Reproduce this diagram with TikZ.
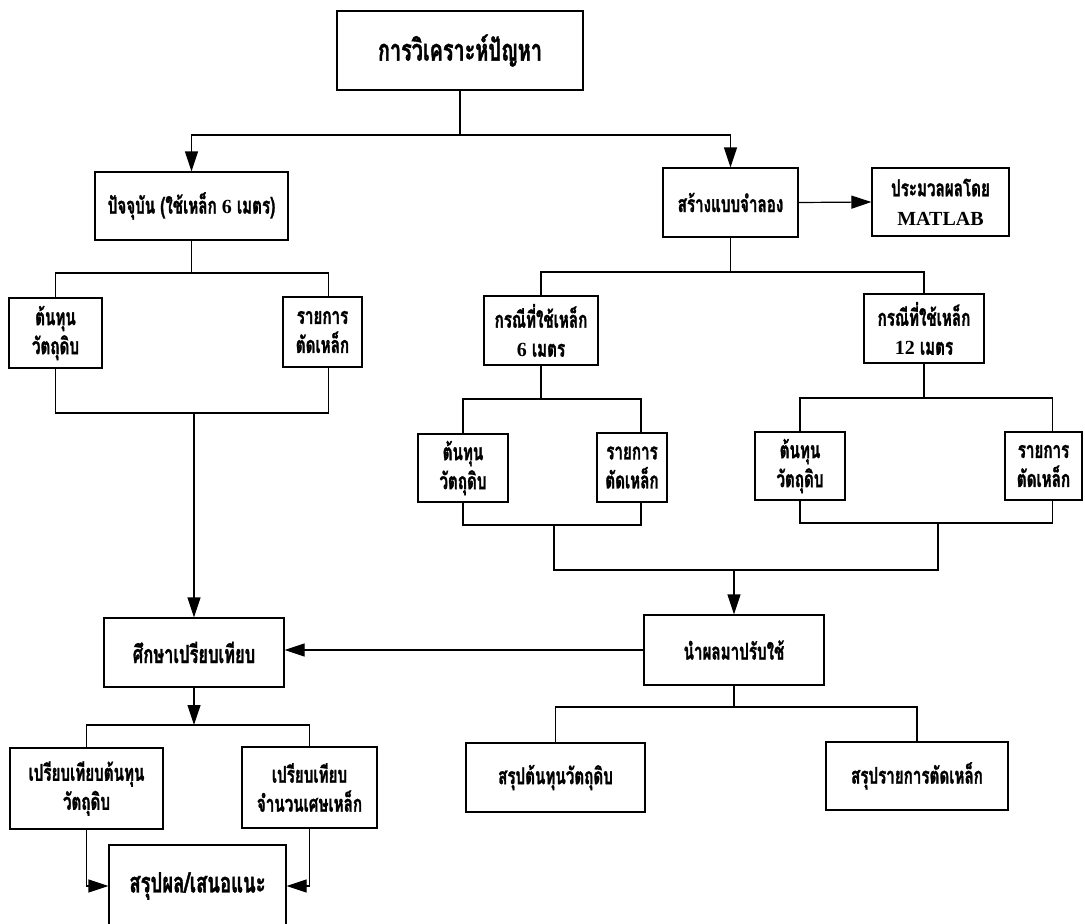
\documentclass[tikz,border=0pt]{standalone}
\usepackage{fontspec}
\newfontfamily\thaifont[Script=Thai,FakeStretch=0.66,BoldFeatures={FakeBold=1.2}]{Loma}
\newfontfamily\latfont{Liberation Serif}
\newcommand\lt[1]{{\latfont\bfseries\fontsize{20}{29}\selectfont #1}}
\usetikzlibrary{arrows.meta,calc}
\tikzset{
  box/.style={draw, line width=1.2pt, inner sep=0pt, align=center,
    font=\thaifont\bfseries\fontsize{23}{29}\selectfont},
  ln/.style={line width=1.2pt},
  arr/.style={line width=1.2pt, -{Triangle[length=20pt,width=13pt]}},
}
\newcommand\bx[6]{\node[box, minimum width={(#4)-(#2)}, minimum height={(#5)-(#3)}] (#1) at ({((#2)+(#4))/2},{((#3)+(#5))/2}) {#6};}
\begin{document}
\begin{tikzpicture}[x=1pt,y=-1pt]
\useasboundingbox (0,0) rectangle (1085,924);
\clip (0,0) rectangle (1085,924);
\fill[white] (0,0) rectangle (1085,924);
% boxes
\bx{top}{337}{11}{583}{90}{\fontsize{30}{34}\selectfont การวิเคราะห์ปัญหา}
\bx{now}{95}{172}{288}{240}{ปัจจุบัน (ใช้เหล็ก \lt{6} เมตร)}
\bx{c1}{9}{298}{102}{368}{ต้นทุน\\วัตถุดิบ}
\bx{l1}{283}{297}{362}{367}{รายการ\\ตัดเหล็ก}
\bx{model}{663}{168}{798}{237}{สร้างแบบจำลอง}
\bx{matlab}{872}{168}{1009}{236}{ประมวลผลโดย\\\lt{MATLAB}}
\bx{m6}{484}{296}{598}{365}{กรณีที่ใช้เหล็ก\\\lt{6} เมตร}
\bx{m12}{864}{294}{984}{363}{กรณีที่ใช้เหล็ก\\\lt{12} เมตร}
\bx{c6}{418}{434}{508}{502}{ต้นทุน\\วัตถุดิบ}
\bx{l6}{597}{433}{667}{502}{รายการ\\ตัดเหล็ก}
\bx{c12}{755}{432}{845}{500}{ต้นทุน\\วัตถุดิบ}
\bx{l12}{1005}{432}{1082}{500}{รายการ\\ตัดเหล็ก}
\bx{apply}{644}{615}{824}{685}{นำผลมาปรับใช้}
\bx{study}{104}{618}{284}{687}{\fontsize{25}{30}\selectfont ศึกษาเปรียบเทียบ}
\bx{cmpc}{10}{748}{163}{829}{เปรียบเทียบต้นทุน\\วัตถุดิบ}
\bx{cmpw}{242}{747}{377}{828}{เปรียบเทียบ\\จำนวนเศษเหล็ก}
\bx{sumc}{466}{743}{645}{812}{สรุปต้นทุนวัตถุดิบ}
\bx{suml}{826}{742}{1008}{810}{สรุปรายการตัดเหล็ก}
\node[box, minimum width=177, minimum height=82] (concl) at (197.5,886) {\fontsize{28}{30}\selectfont สรุปผล/เสนอแนะ};
% junctions
\coordinate (b1) at (460,135);
\coordinate (b2) at (191.5,273);
\coordinate (b3) at (194,413);
\coordinate (b4) at (730.5,272);
\coordinate (b5) at (541,399);
\coordinate (b6) at (554,525);
\coordinate (b9) at (938,523);
\coordinate (b10) at (734,570);
\coordinate (b11) at (194,725);
\coordinate (b12) at (734,707);
\coordinate (b13) at (924,398);
% connectors
\draw[arr] (top.south) -- (b1) -| (now.north);
\draw[arr] (b1) -| (model.north);
\draw[ln] (now.south) -- (b2) -| (c1.north);
\draw[ln] (b2) -| ([xshift=6pt]l1.north);
\draw[ln] (c1.south) |- (b3) -| ([xshift=6pt]l1.south);
\draw[arr] (b3) -- (study.north);
\draw[arr] (model.east) -- (matlab.west);
\draw[ln] (model.south) -- (b4) -| (m6.north);
\draw[ln] (b4) -| (m12.north);
\draw[ln] (m6.south) -- (b5) -| (c6.north);
\draw[ln] (b5) -| ([xshift=9pt]l6.north);
\draw[ln] (m12.south) -- (b13) -| (c12.north);
\draw[ln] (b13) -| ([xshift=9pt]l12.north);
\draw[ln] (c6.south) |- (b6) -| ([xshift=9pt]l6.south);
\draw[ln] (c12.south) |- (b9) -| ([xshift=9pt]l12.south);
\draw[ln] (b6) |- (b10) -| (b9);
\draw[arr] (b10) -- (apply.north);
\draw[arr] (apply.west) -- (apply.west -| study.east);
\draw[arr] (study.south) -- (b11);
\draw[ln] (cmpc.north) |- (b11) -| (cmpw.north);
\draw[arr] (cmpc.south) |- (concl.west);
\draw[arr] (cmpw.south) |- (concl.east);
\draw[ln] (apply.south) -- (b12) -| (sumc.north);
\draw[ln] (b12) -| (suml.north);
\end{tikzpicture}
\end{document}
